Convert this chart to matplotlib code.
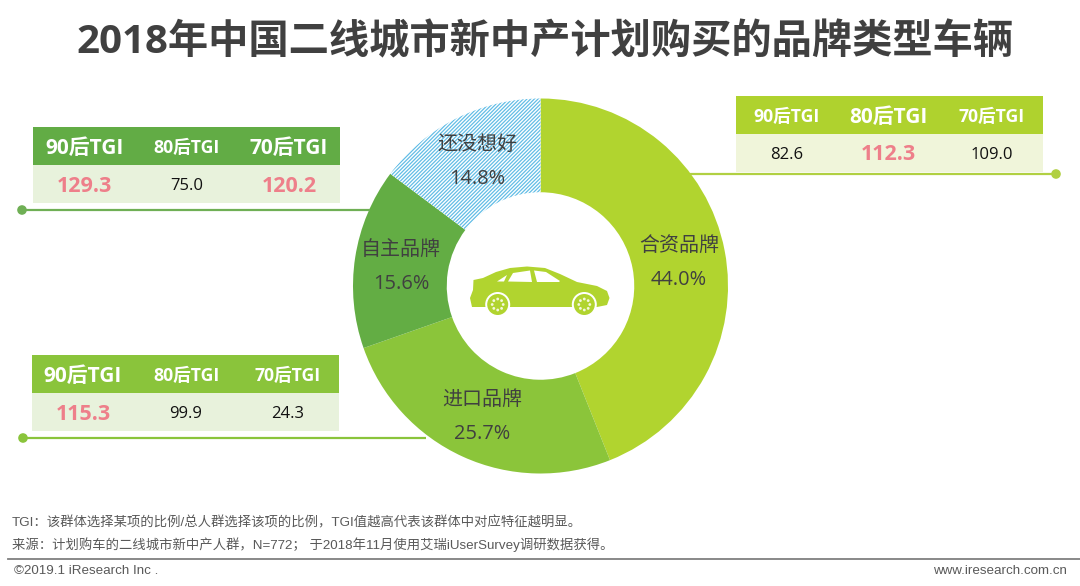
import numpy as np
import matplotlib
matplotlib.use("Agg")
import matplotlib.pyplot as plt
from matplotlib.patches import Circle, Polygon, Rectangle

plt.rcParams["font.family"] = ["Open Sans", "Noto Sans CJK SC", "DejaVu Sans"]
plt.rcParams["hatch.linewidth"] = 0.9

W, H = 1080, 586

TITLE = "2018年中国二线城市新中产计划购买的品牌类型车辆"

# donut data
brands = ["合资品牌", "进口品牌", "自主品牌", "还没想好"]
shares = [44.0, 25.7, 15.6, 14.8]
share_colors = ["#B1D42F", "#8BC53A", "#63AD44", "#FFFFFF"]

# TGI tables
tgi_headers = ["90后TGI", "80后TGI", "70后TGI"]
tgi_hezi = [82.6, 112.3, 109.0]
tgi_jinkou = [115.3, 99.9, 24.3]
tgi_zizhu = [129.3, 75.0, 120.2]

NOTE1 = "TGI：该群体选择某项的比例/总人群选择该项的比例，TGI值越高代表该群体中对应特征越明显。"
NOTE2 = "来源：计划购车的二线城市新中产人群，N=772； 于2018年11月使用艾瑞iUserSurvey调研数据获得。"
COPYRIGHT = "©2019.1 iResearch Inc ."
WEBSITE = "www.iresearch.com.cn"

PINK = "#EE7F8A"
TEXT_COL = "#404040"
NOTE_FONT = ["Liberation Sans", "Noto Sans CJK SC"]

fig = plt.figure(figsize=(W / 100, H / 100), dpi=100, facecolor="white")

# full figure axes in pixel coordinates for everything but the donut
bg = fig.add_axes([0, 0, 1, 1])
bg.set_xlim(0, W)
bg.set_ylim(H, 0)
bg.axis("off")

# donut
cx, cy, R = 540.5, 286, 187.5
ax = fig.add_axes([(cx - R) / W, 1 - (cy + R) / H, 2 * R / W, 2 * R / H])
wedges, _ = ax.pie(
    shares,
    colors=share_colors,
    radius=1,
    startangle=90,
    counterclock=False,
    wedgeprops={"width": 0.5, "linewidth": 0},
)
wedges[3].set_edgecolor("#62BDE6")
wedges[3].set_hatch("/////////")
ax.set_xlim(-1, 1)
ax.set_ylim(-1, 1)
ax.set_zorder(0)
bg.set_zorder(1)
bg.patch.set_alpha(0)

label_pos = [(679, 246, 280), (482, 400, 434), (401, 250, 284), (477, 145, 179)]
for name, share, (lx, y1, y2) in zip(brands, shares, label_pos):
    bg.text(lx, y1, name, fontsize=14.4, color=TEXT_COL, ha="center", va="center")
    bg.text(lx, y2, f"{share:.1f}%", fontsize=14.4, color=TEXT_COL, ha="center", va="center")


# one TGI table with its leader line
def draw_table(x0, top, head_col, body_col, values, big, col_x, line_x, line_y, dot_x, line_col):
    width = 307
    bg.add_patch(Rectangle((x0, top), width, 38, fc=head_col, lw=0))
    bg.add_patch(Rectangle((x0, top + 38), width, 38, fc=body_col, lw=0))
    for i, (head, val) in enumerate(zip(tgi_headers, values)):
        bg.text(col_x[i], top + 21, head, color="white", fontweight="bold",
                fontsize=15 if i in big else 12.7, ha="center", va="center")
        if i in big:
            bg.text(col_x[i], top + 59, f"{val:.1f}", color=PINK, fontweight="bold",
                    fontsize=15.5, ha="center", va="center")
        else:
            bg.text(col_x[i], top + 59, f"{val:.1f}", color="#111111",
                    fontsize=12, ha="center", va="center")
    bg.plot(line_x, [line_y, line_y], color=line_col, lw=1.6, solid_capstyle="butt")
    bg.add_patch(Circle((dot_x, line_y), 4.8, fc=line_col, lw=0))


draw_table(736, 96, "#AFD22E", "#F0F5DA", tgi_hezi, [1], [787, 888, 992],
           [690, 1056], 174, 1056, "#B1D042")
draw_table(33, 127, "#62AC45", "#E8F2DC", tgi_zizhu, [0, 2], [84, 187, 289],
           [22, 370], 210, 22, "#6FAF55")
draw_table(32, 355, "#8AC43B", "#E8F2DC", tgi_jinkou, [0], [83, 186, 288],
           [23, 426], 438, 23, "#8AC43B")

# car icon in the middle
CAR = "#B1D42F"
body = [(473.5, 280), (483, 278), (496, 272), (510, 268), (527, 266.5), (545, 268),
        (560, 274), (577, 282), (597, 286), (607, 291), (609.5, 298), (607, 305),
        (597, 307), (472, 307), (470, 298), (473, 290)]
bg.add_patch(Polygon(body, closed=True, fc=CAR, lw=0))
windows = [
    [(497, 281.5), (507, 275), (504, 281.5)],
    [(508, 281.5), (513, 273), (530, 270.5), (532, 282)],
    [(534, 270.5), (546, 272), (560, 281), (559, 282), (537, 282)],
]
for win in windows:
    bg.add_patch(Polygon(win, closed=True, fc="white", lw=0))
for wx in [497.7, 584.3]:
    bg.add_patch(Circle((wx, 304.5), 12.5, fc="white", lw=0))
    bg.add_patch(Circle((wx, 304.5), 10.5, fc=CAR, lw=0))
    for a in np.arange(0, 2 * np.pi, np.pi / 4):
        bg.add_patch(Circle((wx + 5.5 * np.cos(a), 304.5 + 5.5 * np.sin(a)), 1.4, fc="#F4F8DC", lw=0))

# title and footer
bg.text(545.5, 43, TITLE, fontsize=29, fontweight="bold", color=TEXT_COL, ha="center", va="center")
bg.text(12, 523, NOTE1, fontsize=9.6, family=NOTE_FONT, color="#595959", ha="left", va="center")
bg.text(12, 545, NOTE2, fontsize=9.6, family=NOTE_FONT, color="#595959", ha="left", va="center")
bg.plot([8, W], [558.5, 558.5], color="#7F7F7F", lw=1.3)
bg.text(14, 571, COPYRIGHT, fontsize=9.6, family="Liberation Sans", color="#595959", ha="left", va="center")
bg.text(1067, 571, WEBSITE, fontsize=9.6, family="Liberation Sans", color="#595959", ha="right", va="center")

fig.savefig("out.png", dpi=100, facecolor="white")
